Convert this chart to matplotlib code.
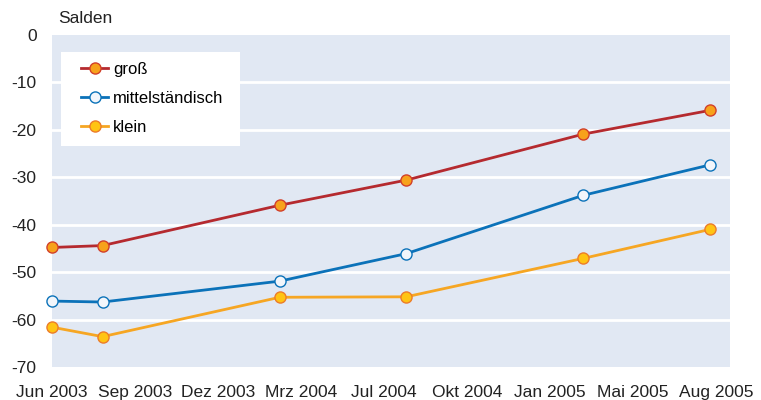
#!/usr/bin/env python3

import matplotlib
matplotlib.use("Agg")
import matplotlib.pyplot as plt
from matplotlib.patches import Rectangle
import numpy as np

plt.rcParams['font.family'] = ['Liberation Sans', 'DejaVu Sans']

# months after Jun 2003 at which the survey points sit
months = [0, 2, 9, 14, 21, 26]
gross = [-44.8, -44.4, -35.9, -30.6, -20.9, -15.9]
mittel = [-56.1, -56.3, -51.9, -46.1, -33.8, -27.4]
klein = [-61.6, -63.6, -55.3, -55.2, -47.1, -41.0]

tick_labels = ["Jun 2003", "Sep 2003", "Dez 2003", "Mrz 2004", "Jul 2004",
               "Okt 2004", "Jan 2005", "Mai 2005", "Aug 2005"]
y_ticks = [0, -10, -20, -30, -40, -50, -60, -70]

fig = plt.figure(figsize=(7.61, 4.0), dpi=100)
ax = fig.add_axes([0.0683, 0.0825, 0.891, 0.83])
ax.set_facecolor("#e1e8f3")

ax.plot(months, gross, color="#b52a2f", lw=2, marker="o", ms=8,
        mfc="#f7a21b", mec="#d2402a", mew=1, label="groß", zorder=3, clip_on=False)
ax.plot(months, mittel, color="#0b72b9", lw=2, marker="o", ms=8,
        mfc="#f2f6fb", mec="#0b72b9", mew=1, label="mittelständisch", zorder=3, clip_on=False)
ax.plot(months, klein, color="#f6a623", lw=2, marker="o", ms=8,
        mfc="#ffc413", mec="#ec7c2a", mew=1, label="klein", zorder=3, clip_on=False)

ax.set_xlim(0, 26.8)
ax.set_ylim(-70, 0)
ax.set_yticks(y_ticks)
ax.set_yticklabels([str(v) for v in y_ticks])
ax.set_xticks(np.linspace(0, 26.25, len(tick_labels)))
ax.set_xticklabels(tick_labels)
ax.tick_params(axis="both", length=0, labelsize=12.5, colors="#222222")
ax.tick_params(axis="y", pad=11)
ax.tick_params(axis="x", pad=13)

for v in y_ticks[1:-1]:
    ax.axhline(v, color="white", lw=2, zorder=1)

for s in ax.spines.values():
    s.set_visible(False)

fig.text(0.077, 0.953, "Salden", fontsize=12.5, color="#222222", ha="left", va="center")

# white legend box
ax.add_patch(Rectangle((0.0133, 0.666), 0.264, 0.283, transform=ax.transAxes,
                       facecolor="white", edgecolor="none", zorder=4))
leg = ax.legend(loc="upper left", bbox_to_anchor=(0.0435, 0.92), borderaxespad=0,
                fontsize=12, frameon=False, handlelength=1.6, handletextpad=0.3,
                labelspacing=0.85, borderpad=0)
leg.set_zorder(5)

fig.savefig("out.png", dpi=100)
